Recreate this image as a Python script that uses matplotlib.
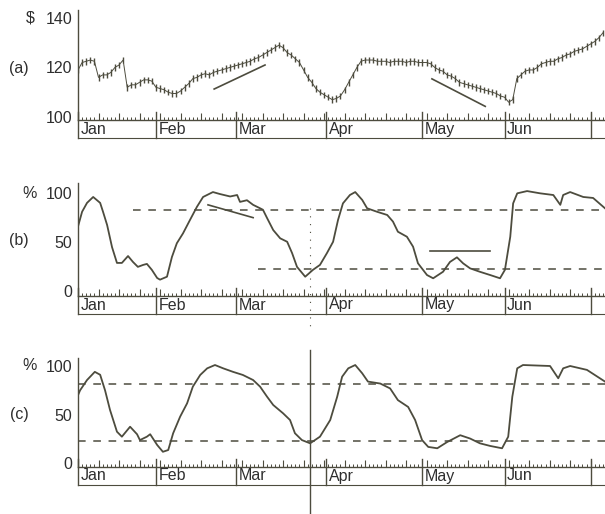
import matplotlib.pyplot as plt
from matplotlib.transforms import blended_transform_factory


# _____DATA____

month_names = ['Jan', 'Feb', 'Mar', 'Apr', 'May', 'Jun', '']
month_starts = [0, 19, 38.5, 60.5, 84, 104, 125]   # trading day at which each month starts
last_day = 128.5

# (a) daily price, one value per trading day
price = [119, 122, 122.5, 123, 122.5, 116, 117, 117, 118, 120,
         121, 123, 112, 113, 113, 114, 115, 115, 114.5, 112,
         111.5, 111, 110, 109.5, 109.5, 110.5, 112, 113.5, 115.5, 116,
         117, 117.5, 117, 118, 118.5, 119, 119.5, 120, 120.5, 121,
         121.5, 122, 122.5, 123.5, 124, 125, 126, 127, 128, 129,
         128, 126, 125, 123.5, 122, 119, 116, 114, 111.5, 110,
         109, 108, 107, 107.5, 108.5, 111, 114, 117, 120, 122.5,
         123, 123, 123, 122.5, 122.5, 122.5, 122, 122.5, 122.5, 122.5,
         122, 122.5, 122.5, 122, 122, 122, 121.5, 120, 119, 118.5,
         117, 116.5, 115.5, 114, 113.5, 113, 112.5, 112, 111.5, 111,
         110.5, 110, 109.5, 108.5, 108, 106, 107, 115.5, 117, 118.5,
         119, 119, 120, 121.5, 122, 122.5, 122.5, 123.5, 124, 125,
         125.5, 126.5, 127, 127.5, 128.5, 129.5, 130.5, 132, 134]

# (b) percentage curve
b_days = [0, 1.0, 2.2, 3.7, 5.4, 6.1, 7.1, 8.3, 9.5, 10.7, 12.2, 13.4, 14.6, 15.9, 16.8,
          18.0, 19.3, 20.0, 21.7, 22.9, 24.1, 25.6, 27.3, 29.0, 30.5, 32.9, 34.6, 37.1,
          38.8, 39.5, 41.2, 42.7, 44.4, 45.1, 46.1, 47.6, 49.3, 51.0, 52.2, 53.4, 55.4,
          57.3, 59.0, 60.7, 62.2, 63.4, 64.6, 66.3, 67.6, 69.3, 70.5, 72.9, 75.4, 76.8,
          78.0, 80.2, 81.7, 82.9, 85.1, 86.6, 89.0, 90.7, 92.4, 93.9, 95.6, 98.0, 100.5,
          102.9, 104.1, 105.4, 106.1, 107.1, 109.5, 112.7, 115.9, 117.6, 118.3, 120.0,
          123.2, 125.6, 128.5]
b_values = [66, 81, 90, 96, 90, 81, 67.5, 45, 29, 29, 36, 30, 25, 27, 28,
            22, 13.7, 12, 15, 35, 49, 59, 72.6, 86, 96, 101, 99, 96.5,
            98, 91, 92.7, 88, 84.5, 83, 74.6, 62.4, 54, 50.5, 39, 25, 15,
            22, 27, 39, 50.5, 72.6, 89.5, 98, 101, 93, 84.5, 81, 77.7, 71,
            60.7, 55.6, 45.5, 28.6, 16.7, 13.4, 20, 30, 34.7, 28.6, 23.5, 20, 16.7,
            13.4, 22, 55.6, 89.5, 99.7, 102, 99.7, 98, 88, 98, 101,
            96, 95, 84.5]

# (c) percentage curve
c_days = [0, 0.5, 2.2, 4.1, 5.4, 6.6, 7.8, 9.5, 10.7, 12.7, 14.4, 15.1, 16.8, 17.6,
          19.3, 20.7, 22.0, 23.2, 24.9, 26.6, 28.0, 29.8, 31.5, 33.4, 35.4, 37.8, 40.2,
          42.7, 44.4, 46.1, 47.6, 50.0, 51.7, 52.9, 54.6, 56.6, 59.0, 61.5, 63.2, 64.4,
          65.9, 67.6, 69.3, 70.7, 73.7, 76.1, 78.0, 80.5, 82.2, 83.9, 85.4, 87.6, 90.0,
          93.2, 95.6, 98.0, 100.5, 103.4, 104.9, 105.9, 107.1, 108.5, 115.1, 117.1,
          118.3, 120.0, 124.1, 128.5]
c_values = [70, 75, 85.6, 94, 91, 75, 55, 32.6, 27.5, 37.7, 30, 24, 27.5, 30,
            19, 12, 13.8, 31, 48, 61.7, 78.8, 90.8, 97.6, 101, 97.6, 94, 90.8,
            85.6, 78.8, 68.5, 60, 51.5, 44.6, 31, 24, 20.7, 27.5, 44.6, 68.5, 89,
            97.6, 101, 92.5, 84, 82, 77, 65, 58, 44.6, 24, 17, 15.6, 22,
            29, 25.6, 20.7, 18, 15.6, 27.5, 68.5, 97.6, 101, 100, 87.4,
            97.6, 100, 96, 84]

# hand drawn trend lines: (day0, value0, day1, value1)
a_trends = [(33.2, 111.3, 45.6, 121.0), (86.3, 115.4, 99.3, 104.3)]
b_trends = [(31.7, 88, 42.7, 75), (85.9, 41.5, 100.5, 41.5)]

# dashed threshold levels: (start day, level)
b_levels = [(13.4, 83), (43.9, 23)]
c_levels = [(0, 82), (0, 23)]

marker_day = 56.6

FIG_W_PX = 605
FIG_H_PX = 514
INK = '#4d4c3e'
TEXT = '#2e2e2e'


# _____HELPERS____

def px(x, y):
    # pixel position to figure fraction
    return x / FIG_W_PX, 1 - y / FIG_H_PX


def setup_axes(ax, ylim, yticks):
    ax.set_xlim(0, last_day)
    ax.set_ylim(*ylim)
    for side in ['top', 'right']:
        ax.spines[side].set_visible(False)
    for side in ['left', 'bottom']:
        ax.spines[side].set_color(INK)
        ax.spines[side].set_linewidth(1.0)

    ax.set_yticks(yticks)
    ax.set_yticklabels([str(t) for t in yticks])
    ax.tick_params(axis='y', length=0, pad=4, labelsize=11.5, labelcolor=TEXT)

    ax.set_xticks([d for d in range(0, 129, 5)])
    ax.set_xticks([d for d in range(0, 129)], minor=True)
    ax.tick_params(axis='x', which='major', direction='in', length=5, width=0.8,
                   color=INK, labelbottom=False)
    ax.tick_params(axis='x', which='minor', direction='in', length=2.5, width=0.7,
                   color=INK)


def draw_month_band(ax, depth_px=18):
    # box of month names under the time axis
    trans = blended_transform_factory(ax.transData, ax.transAxes)
    height_px = ax.get_position().height * FIG_H_PX
    depth = depth_px / height_px
    for start in month_starts:
        ax.plot([start, start], [8 / height_px, -depth], transform=trans,
                color=INK, lw=1.0, clip_on=False)
    ax.plot([0, last_day], [-depth, -depth], transform=trans,
            color=INK, lw=0.8, clip_on=False)
    for start, name in zip(month_starts, month_names):
        ax.text(start + 0.6, -depth / 2, name, transform=trans, ha='left', va='center',
                fontsize=11.5, color=TEXT)


def draw_levels(ax, levels):
    for start, level in levels:
        ax.plot([start, last_day], [level, level], color=INK, lw=1.1,
                linestyle=(0, (5, 5)))


def draw_trends(ax, trends):
    for d0, v0, d1, v1 in trends:
        ax.plot([d0, d1], [v0, v1], color=INK, lw=1.2)


# _____FIGURE____

plt.rcParams['font.family'] = ['Liberation Sans', 'DejaVu Sans']

fig = plt.figure(figsize=(6.05, 5.14), dpi=100)

ax_a = fig.add_axes([78 / 605, 1 - 120 / 514, 527 / 605, 110 / 514])
ax_b = fig.add_axes([78 / 605, 1 - 296 / 514, 527 / 605, 113 / 514])
ax_c = fig.add_axes([78 / 605, 1 - 467 / 514, 527 / 605, 109 / 514])

# (a) price bars
setup_axes(ax_a, (98.8, 143.2), [100, 120, 140])
days = list(range(len(price)))
ax_a.plot(days, price, color=INK, lw=0.7)
ax_a.vlines(days, [p - 1.3 for p in price], [p + 1.3 for p in price], color=INK, lw=1.0)
draw_trends(ax_a, a_trends)
draw_month_band(ax_a)

# (b)
setup_axes(ax_b, (-4.6, 110.2), [0, 50, 100])
draw_levels(ax_b, b_levels)
ax_b.plot(b_days, b_values, color=INK, lw=1.3)
draw_trends(ax_b, b_trends)
ax_b.plot([marker_day, marker_day], [85, -40], color=INK, lw=0.8,
          linestyle=(0, (1, 6)), clip_on=False)
draw_month_band(ax_b)

# (c)
setup_axes(ax_c, (-3.6, 108.2), [0, 50, 100])
draw_levels(ax_c, c_levels)
ax_c.plot(c_days, c_values, color=INK, lw=1.3)
ax_c.plot([marker_day, marker_day], [116, -52], color=INK, lw=1.0, clip_on=False)
draw_month_band(ax_c)

# side labels
fig.text(*px(30, 18), '$', ha='center', va='center', fontsize=11.5, color=TEXT)
fig.text(*px(30, 193), '%', ha='center', va='center', fontsize=11.5, color=TEXT)
fig.text(*px(30, 366), '%', ha='center', va='center', fontsize=11.5, color=TEXT)
fig.text(*px(19, 68), '(a)', ha='center', va='center', fontsize=11.5, color=TEXT)
fig.text(*px(19, 241), '(b)', ha='center', va='center', fontsize=11.5, color=TEXT)
fig.text(*px(19, 415), '(c)', ha='center', va='center', fontsize=11.5, color=TEXT)

plt.savefig('out.png', dpi=100)
plt.close('all')
